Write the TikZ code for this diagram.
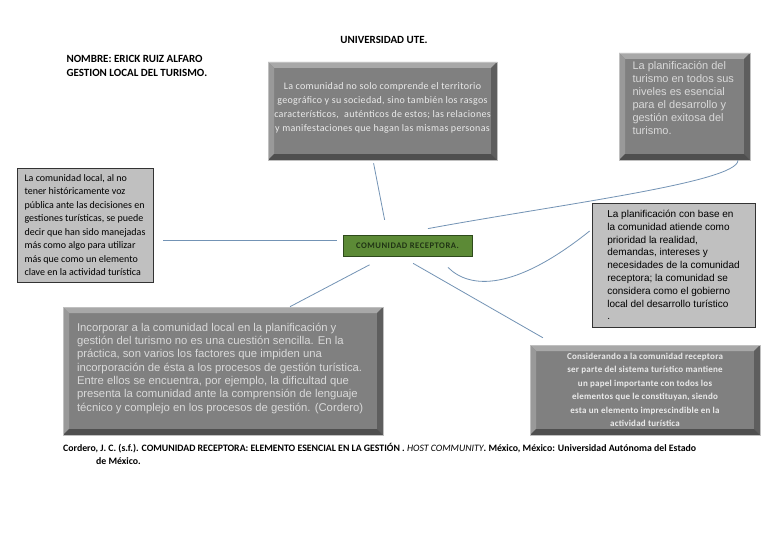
\documentclass[tikz,border=0pt]{standalone}
\usepackage{fontspec}
\setmainfont{Carlito}
\newfontfamily\arialfont{Liberation Sans}
\newfontfamily\spacedtop[LetterSpace=3]{Carlito}
\newfontfamily\spacedbot[LetterSpace=2.5]{Carlito}
\newfontfamily\spacedrec[LetterSpace=6]{Carlito}
\usetikzlibrary{positioning}

\definecolor{bevface}{HTML}{808080}
\definecolor{bevlight}{HTML}{A8A8A8}
\definecolor{bevmid}{HTML}{999999}
\definecolor{bevdark}{HTML}{5E5E5E}
\definecolor{bevdeep}{HTML}{4F4F4F}
\definecolor{boxgray}{HTML}{C0C0C0}
\definecolor{recgreen}{HTML}{5C8A36}
\definecolor{recdark}{HTML}{2E4A1C}
\definecolor{linkblue}{HTML}{7393B5}

\begin{document}
\begin{tikzpicture}[x=1pt, y=-1pt,
        bevel/.style={fill=bevface, draw=boxgray, line width=0.6pt, inner sep=0pt,
                      align=center, text=white!92!black,
                      path picture={
                        \fill[bevlight] (path picture bounding box.north west) -- (path picture bounding box.north east)
                            -- ([shift={(-6pt,-6pt)}]path picture bounding box.north east)
                            -- ([shift={(6pt,-6pt)}]path picture bounding box.north west) -- cycle;
                        \fill[bevmid] (path picture bounding box.north west) -- ([shift={(6pt,-6pt)}]path picture bounding box.north west)
                            -- ([shift={(6pt,6pt)}]path picture bounding box.south west)
                            -- (path picture bounding box.south west) -- cycle;
                        \fill[bevdark] (path picture bounding box.north east) -- ([shift={(-6pt,-6pt)}]path picture bounding box.north east)
                            -- ([shift={(-6pt,6pt)}]path picture bounding box.south east)
                            -- (path picture bounding box.south east) -- cycle;
                        \fill[bevdeep] (path picture bounding box.south west) -- ([shift={(6pt,6pt)}]path picture bounding box.south west)
                            -- ([shift={(-6pt,6pt)}]path picture bounding box.south east)
                            -- (path picture bounding box.south east) -- cycle;
                      }},
        plain/.style={fill=boxgray, draw=black!80, line width=0.7pt, inner sep=0pt, align=left},
        link/.style={draw=linkblue, line width=0.8pt},
        head/.style={font=\bfseries\fontsize{11}{14}\selectfont, align=left}
    ]
        \useasboundingbox[fill=white] (0,0) rectangle (768,543);

        % titles
        \node[head] (uni) at (384,40) {UNIVERSIDAD UTE.};
        \node[head, anchor=west] (name) at (63,66)
            {NOMBRE: ERICK RUIZ ALFARO\\GESTION LOCAL DEL TURISMO.};

        % central concept
        \node[fill=recgreen, draw=recdark, line width=0.8pt, minimum width=129, minimum height=21,
              inner sep=0pt, text=recdark!70!black,
              font=\spacedrec\bfseries\fontsize{8.6}{10}\selectfont] (recep)
              at (407.5,245.5) {COMUNIDAD RECEPTORA.};

        % surrounding boxes
        \node[bevel, minimum width=229, minimum height=98,
              font=\spacedtop\fontsize{10}{14}\selectfont] (topc) at (382.5,111)
            {\parbox[c][56pt][t]{225pt}{\centering
             La comunidad no solo comprende el territorio\\
             geográfico y su sociedad, sino también los rasgos\\
             característicos,\; auténticos de estos; las relaciones\\
             y manifestaciones que hagan las mismas personas}};
        \node[bevel, minimum width=131, minimum height=107,
              font=\arialfont\fontsize{11}{13}\selectfont, text=white!85!black] (topr) at (684.5,106.5)
            {\parbox[c][91pt][t]{104pt}{\raggedright
             La planificación del\\turismo en todos sus\\niveles es esencial\\para el desarrollo y\\
             gestión exitosa del\\turismo.}};
        \node[plain, minimum width=136, minimum height=114,
              font=\fontsize{10}{13.5}\selectfont] (left) at (85,225)
            {La comunidad local, al no\\tener históricamente voz\\pública ante las decisiones en\\
             gestiones turísticas, se puede\\decir que han sido manejadas\\más como algo para utilizar\\
             más que como un elemento\\clave en la actividad turística};
        \node[plain, minimum width=163, minimum height=124,
              font=\arialfont\fontsize{10}{12.8}\selectfont] (right) at (673.5,265)
            {La planificación con base en\\la comunidad atiende como\\prioridad la realidad,\\
             demandas, intereses y\\necesidades de la comunidad\\receptora; la comunidad se\\
             considera como el gobierno\\local del desarrollo turístico\\.};
        \node[bevel, minimum width=320, minimum height=128,
              font=\arialfont\fontsize{11.3}{13.3}\selectfont, text=white!85!black] (botl) at (223,371)
            {\parbox[c][96pt][t]{292pt}{\raggedright
             Incorporar a la comunidad local en la planificación y\\
             gestión del turismo no es una cuestión sencilla. En la\\
             práctica, son varios los factores que impiden una\\
             incorporación de ésta a los procesos de gestión turística.\\
             Entre ellos se encuentra, por ejemplo, la dificultad que\\
             presenta la comunidad ante la comprensión de lenguaje\\
             técnico y complejo en los procesos de gestión. (Cordero)}};
        \node[bevel, minimum width=230, minimum height=90,
              font=\spacedbot\bfseries\fontsize{9}{13.5}\selectfont] (botr) at (645,390)
            {Considerando a la comunidad receptora\\ser parte del sistema turístico mantiene\\
             un papel importante con todos los\\elementos que le constituyan, siendo\\
             esta un elemento imprescindible en la\\actividad turística};

        % reference
        \node[anchor=north west, align=left, inner sep=0pt,
              font=\bfseries\fontsize{9.8}{13}\selectfont] (ref) at (63,443)
            {Cordero, J. C. (s.f.). COMUNIDAD RECEPTORA: ELEMENTO ESENCIAL EN LA GESTIÓN . {\mdseries\itshape HOST COMMUNITY}. México, México: Universidad Autónoma del Estado\\
             \hspace*{33pt}de México.};

        % connectors
        \draw[link, shorten <=10pt, shorten >=6pt] ([yshift=-15pt]left.east) -- ([yshift=5.5pt]recep.west);
        \draw[link, shorten <=3pt, shorten >=15pt] ([xshift=-9.5pt]topc.south) -- ([xshift=-20pt]recep.north);
        \draw[link] ([xshift=53.5pt]topr.south) .. controls +(0,22) and +(130,-24) .. ([xshift=20.5pt, yshift=6pt]recep.north);
        \draw[link] ([xshift=40.5pt, yshift=-11pt]recep.south) .. controls +(22,22) and +(-75,60) .. ([xshift=-2pt, yshift=34pt]right.west);
        \draw[link, shorten <=18pt] ([xshift=-22pt]recep.south) -- ([xshift=67pt]botl.north);
        \draw[link, shorten <=14pt, shorten >=14pt] ([xshift=-6.5pt]recep.south) -- ([xshift=-90pt]botr.north);
    \end{tikzpicture}
\end{document}
